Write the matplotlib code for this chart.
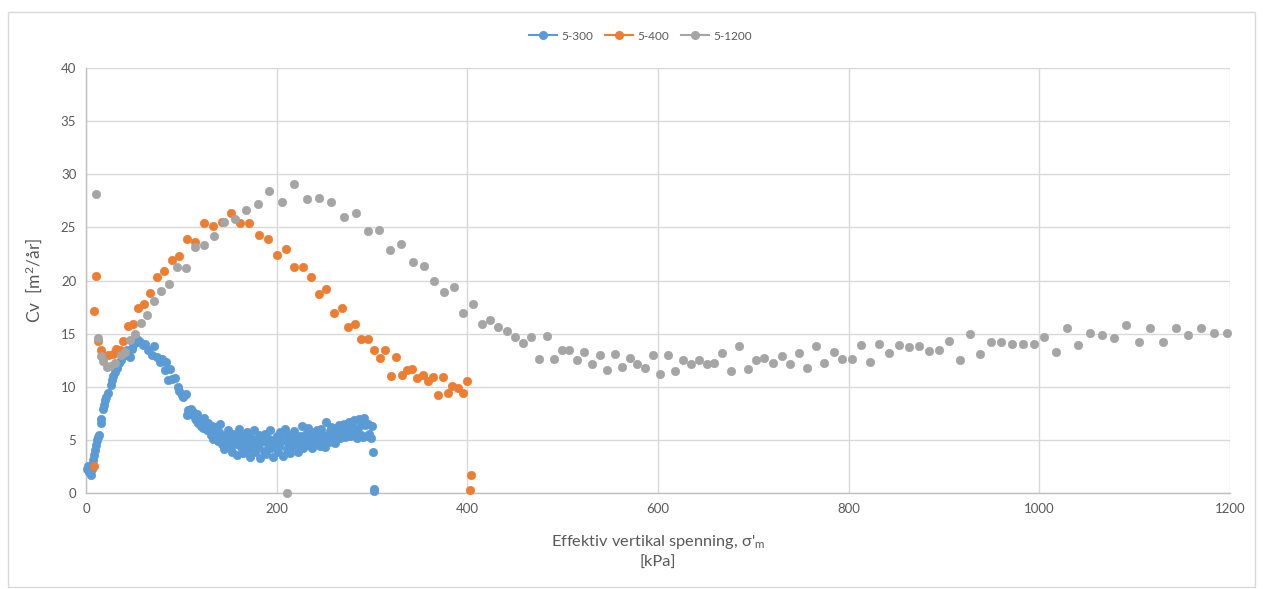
import matplotlib
matplotlib.use("Agg")
import matplotlib.pyplot as plt
from matplotlib.lines import Line2D
from matplotlib.patches import Rectangle

plt.rcParams["font.family"] = ["Lato", "DejaVu Sans"]
plt.rcParams["mathtext.fontset"] = "custom"
plt.rcParams["mathtext.rm"] = "Lato"
plt.rcParams["mathtext.it"] = "Lato:italic"

# ---- data: effective vertical stress [kPa] and Cv [m2/year] ----
x_300 = [1.5, 2.4, 3.0, 3.5, 4.9, 6, 7.7, 8.5, 9.4, 10.3, 11.2, 12.5, 14.0, 15.4, 16.2, 17.5,
         18.5, 19.9, 21.5, 23.4, 25.9, 27.5, 28.7, 30.5, 32.9, 34.5, 36.4, 38.5, 40.9, 43,
         46.2, 48, 49.7, 52, 54.9, 57, 60.1, 62, 65.4, 68.9, 71.3, 74.8, 77.6, 80, 83.9,
         82.9, 86.3, 88.1, 90, 93.4, 96.8, 98, 100.4, 102, 104.5,
         106, 107, 108.5, 110, 111, 112.5, 114, 115, 116.5, 118, 119, 120.5, 121.5, 123,
         124, 125.5, 127, 128, 129.5, 131, 132, 133, 134.5, 136, 137, 138.5, 140, 141,
         142.5, 144, 145, 146.5, 148, 149, 150.5, 152, 153, 154.5, 156, 157, 158.5, 160,
         161, 162.5, 164, 165, 166.5, 168, 169, 170.5, 172, 173, 174.5, 176, 177, 178.5,
         180, 181, 182.5, 184, 185, 186.5, 188, 189, 190.5, 192, 193, 194.5, 196, 197,
         198.5, 200, 201, 202.5, 204, 205, 206.5, 208, 209, 210.5, 212, 213, 214.5, 216,
         217, 218.5, 220, 221, 222.5, 224, 225, 226.5, 228, 229, 230.5, 232, 233, 234.5,
         236, 237, 238.5, 240, 241, 242.5, 244, 245, 246.5, 248, 249, 250.5, 252, 253,
         254.5, 256, 257, 258.5, 260, 261, 262.5, 264, 265, 266.5, 268, 269, 270.5, 272,
         273, 274.5, 276, 277, 278.5, 280, 281, 282.5, 284, 285, 286.5, 288, 289, 290.5,
         292, 293, 294.5, 296, 297, 298.5, 300, 301, 302, 302]
cv_300 = [2.3, 2.5, 2.1, 2.0, 1.7, 2.3, 3.1, 3.6, 4.05, 4.5, 5.0, 5.3, 5.45, 6.55, 7.0, 7.95,
          8.3, 8.75, 9.0, 9.4, 10.15, 10.6, 11.0, 11.4, 11.8, 12.2, 12.5, 12.9, 13.15, 13.5,
          12.8, 13.6, 13.9, 14.2, 14.4, 14.2, 13.9, 14.0, 13.5, 13.0, 13.8, 12.8, 12.35, 12.6, 12.35,
          11.6, 10.6, 11.7, 10.7, 10.8, 10.0, 9.6, 9.2, 9.0, 9.3,
          7.3, 7.8, 7.5, 7.9, 7.4, 7.6, 7.1, 6.9, 7.4, 6.6, 7.0, 6.3, 6.8, 6.1,
          7.1, 6.4, 5.9, 6.6, 6.0, 5.5, 6.3, 5.1, 5.8, 6.2, 5.3, 4.9, 5.7, 6.5,
          4.6, 5.2, 4.1, 5.5, 4.8, 5.9, 4.4, 5.1, 3.9, 5.6, 4.6, 5.3, 3.6, 6.0,
          4.9, 4.3, 5.4, 3.8, 5.0, 4.5, 5.7, 4.1, 3.4, 5.2, 4.7, 5.9, 3.9, 5.0,
          4.3, 5.5, 3.3, 4.8, 5.3, 4.0, 5.6, 3.7, 4.6, 5.1, 5.9, 4.2, 3.4, 5.0,
          4.7, 5.4, 3.9, 4.4, 5.7, 4.9, 3.5, 5.2, 6.0, 4.1, 4.7, 5.5, 3.8, 5.0,
          4.4, 5.8, 4.6, 5.2, 3.9, 5.4, 4.8, 6.3, 4.2, 5.1, 5.6, 4.5, 6.1, 4.9,
          5.3, 4.2, 5.7, 5.0, 4.6, 5.9, 5.3, 4.4, 6.0, 5.1, 5.5, 4.3, 6.7, 5.2,
          4.8, 5.8, 6.2, 5.0, 5.5, 4.7, 6.1, 5.6, 6.4, 5.2, 6.0, 5.7, 6.5, 5.3,
          6.2, 5.9, 6.7, 5.4, 6.3, 5.8, 6.9, 5.6, 5.2, 6.1, 7.0, 5.5, 6.6, 5.3,
          7.1, 6.4, 5.4, 6.5, 5.6, 5.2, 6.3, 3.9, 0.4, 0.2]

x_400 = [8.4, 8.4, 10.5, 12.9, 15.4, 18.9, 23.4, 27.9, 31.4, 35.7, 39.2, 44.4, 49.0, 54.9,
         61.2, 67.1, 74.1, 81.8, 89.8, 97.1, 105.5, 114.6, 123.4, 132.8, 142.3, 151.7,
         161.5, 171.3, 181.5, 191.3, 200.3, 209.4, 218.2, 227.2, 235.9, 244.3, 252.0,
         260.1, 268.2, 275.2, 282.5, 288.5, 295.5, 302.1, 308.1, 313.6, 319.9, 325.5,
         331.1, 336.4, 342.3, 347.6, 353.2, 358.4, 363.7, 369.2, 374.1, 379.7, 384.3,
         389.9, 395.1, 400.0, 404.2, 402.8]
cv_400 = [17.1, 2.5, 20.45, 14.35, 13.45, 12.9, 13.0, 13.1, 13.55, 13.45, 14.3, 15.7, 15.9, 17.4,
          17.8, 18.85, 20.3, 20.9, 21.9, 22.3, 23.9, 23.65, 25.4, 25.1, 25.55, 26.4,
          25.4, 25.45, 24.3, 23.9, 22.4, 23.0, 21.25, 21.3, 20.3, 18.7, 19.2,
          16.9, 17.4, 15.65, 15.9, 14.5, 14.5, 13.45, 12.75, 13.5, 11.0, 12.8,
          11.1, 11.6, 11.65, 10.8, 11.1, 10.55, 10.9, 9.25, 10.9, 9.4, 10.1,
          9.9, 9.45, 10.5, 1.7, 0.3]

x_1200 = [10.5, 12.9, 15.4, 18.2, 21.7, 25.2, 30.4, 36.4, 40.9, 46.2, 51.4, 57.7, 64.3,
          71.3, 78.7, 86.7, 95.1, 104.5, 114.3, 123.7, 134.3, 145.1, 156.3, 167.8, 180.0,
          192.3, 205.3, 211.2, 218.2, 231.4, 244.7, 257.3, 270.3, 282.8, 295.4, 307.3,
          318.9, 330.7, 343.3, 354.4, 365.2, 375.6, 386.1, 395.8, 405.6, 415.0, 423.8,
          432.5, 441.2, 450.0, 458.0, 466.8, 475.5, 483.1, 490.8, 499.5, 506.9, 515.3,
          522.6, 531.0, 539.1, 546.8, 554.8, 562.5, 570.2, 578.2, 586.3, 594.4, 602.1,
          610.1, 618.1, 626.6, 634.3, 642.6, 651.0, 659.1, 667.5, 676.6, 685.0, 694.0,
          702.8, 711.5, 720.6, 729.7, 738.4, 747.5, 756.6, 765.4, 774.4, 784.2, 793.3,
          803.1, 812.5, 822.4, 832.2, 842.0, 852.5, 863.0, 873.4, 884.6, 895.1, 905.6,
          916.5, 927.0, 938.2, 949.1, 959.9, 971.4, 982.6, 994.2, 1005.3, 1017.2, 1028.7,
          1040.9, 1053.2, 1065.8, 1078.0, 1091.0, 1104.2, 1116.5, 1130.1, 1143.1, 1156.0,
          1169.6, 1182.9, 1196.5]
cv_1200 = [28.1, 14.56, 12.9, 12.4, 11.9, 11.95, 12.2, 13.0, 13.3, 14.4, 15.0, 16.0, 16.8,
           18.1, 19.0, 19.7, 21.3, 21.2, 23.2, 23.3, 24.2, 25.5, 25.8, 26.6, 27.2,
           28.4, 27.4, 0.0, 29.05, 27.7, 27.8, 27.4, 26.0, 26.35, 24.7, 24.8,
           22.9, 23.4, 21.7, 21.4, 20.0, 18.9, 19.4, 16.9, 17.8, 15.9, 16.25,
           15.6, 15.25, 14.65, 14.1, 14.7, 12.6, 14.75, 12.6, 13.5, 13.5, 12.55,
           13.3, 12.1, 12.95, 11.6, 13.1, 11.85, 12.7, 12.15, 11.75, 13.0, 11.2,
           12.95, 11.5, 12.5, 12.1, 12.5, 12.1, 12.2, 13.2, 11.5, 13.8, 11.7,
           12.55, 12.7, 12.2, 12.9, 12.15, 13.2, 11.75, 13.8, 12.2, 13.3, 12.65,
           12.65, 13.9, 12.3, 14.0, 13.15, 13.95, 13.7, 13.85, 13.4, 13.5, 14.3,
           12.5, 15.0, 13.1, 14.2, 14.2, 14.05, 14.05, 14.05, 14.7, 13.3, 15.55,
           13.95, 15.05, 14.9, 14.55, 15.8, 14.2, 15.5, 14.25, 15.5, 14.9,
           15.55, 15.05, 15.05]

series = [("5-300", x_300, cv_300, "#5B9BD5"),
          ("5-400", x_400, cv_400, "#ED7D31"),
          ("5-1200", x_1200, cv_1200, "#A5A5A5")]

x_ticks = [0, 200, 400, 600, 800, 1000, 1200]
y_ticks = [0, 5, 10, 15, 20, 25, 30, 35, 40]

text_grey = "#595959"
grid_grey = "#d9d9d9"

fig = plt.figure(figsize=(12.63, 5.89), dpi=100)
ax = fig.add_axes([86 / 1263, 1 - 493 / 589, (1230 - 86) / 1263, (493 - 68) / 589])

for name, xs, ys, col in series:
    ax.plot(xs, ys, linestyle="none", marker="o", markersize=6.0,
            markerfacecolor=col, markeredgecolor=col, markeredgewidth=0.5,
            zorder=3, clip_on=False)

ax.set_xlim(0, 1200)
ax.set_ylim(0, 40)
ax.set_xticks(x_ticks)
ax.set_yticks(y_ticks)
ax.set_xticklabels([str(v) for v in x_ticks])
ax.set_yticklabels([str(v) for v in y_ticks])
ax.grid(True, color=grid_grey, linewidth=1.0, zorder=0)
ax.set_axisbelow(True)
for side in ["top", "right"]:
    ax.spines[side].set_visible(False)
for side in ["left", "bottom"]:
    ax.spines[side].set_color("#bfbfbf")
    ax.spines[side].set_linewidth(1.0)
ax.tick_params(axis="both", length=0, labelsize=9.5, colors=text_grey, pad=7)

ax.set_ylabel("Cv  [m$^2$/år]", fontsize=12.5, color=text_grey, labelpad=12)
ax.set_xlabel("Effektiv vertikal spenning, σ'$_\\mathrm{m}$\n[kPa]", fontsize=11.8,
              color=text_grey, labelpad=13, linespacing=1.45)

handles = [Line2D([0], [0], color=col, linewidth=1.5, marker="o", markersize=5.5,
                  markerfacecolor=col, markeredgecolor=col)
           for _, _, _, col in series]
leg = fig.legend(handles, [s[0] for s in series], loc="center",
                 bbox_to_anchor=(0.507, 1 - 36 / 589), ncol=3, frameon=False,
                 fontsize=8.5, handlelength=2.4, columnspacing=1.0, handletextpad=0.35)
for t in leg.get_texts():
    t.set_color(text_grey)

# chart frame
fig.patches.append(Rectangle((8 / 1263, 2 / 589), (1255 - 8) / 1263, (577 - 2) / 589,
                             transform=fig.transFigure, fill=False,
                             edgecolor="#d9d9d9", linewidth=1.0))

fig.savefig("out.png", dpi=100)
